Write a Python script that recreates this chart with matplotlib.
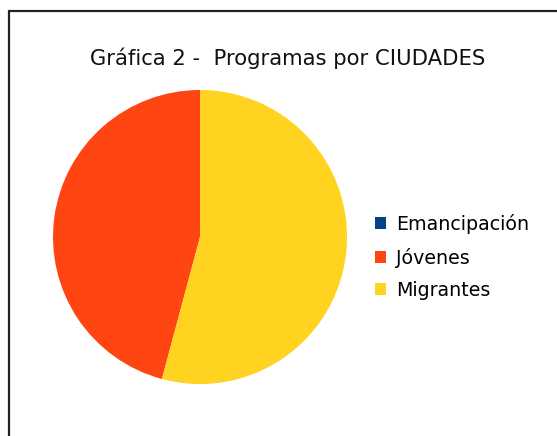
import matplotlib.pyplot as plt
from matplotlib.patches import Rectangle, Patch

labels = ['Emancipación', 'Jóvenes', 'Migrantes']
values = [0, 11, 13]
colors = ['#004586', '#ff4512', '#ffd320']

W, H = 557, 436
fig = plt.figure(figsize=(W / 100, H / 100), dpi=100)

# frame around the chart (right and bottom edges run off the image)
fig.patches.append(Rectangle((9 / W, -0.1), 1.1, (H - 11) / H + 0.1,
                             transform=fig.transFigure, fill=False,
                             edgecolor='#222222', linewidth=1.6))

# pie, centre (200, 237) px, radius 147 px
ax = fig.add_axes([53 / W, (H - 384) / H, 294 / W, 294 / H])
ax.pie(values, colors=colors, startangle=90, counterclock=True,
       radius=1, wedgeprops={'linewidth': 0})
ax.set_xlim(-1, 1)
ax.set_ylim(-1, 1)
ax.set_aspect('equal')
ax.axis('off')

fig.text(288 / W, 1 - 58 / H, 'Gráfica 2 -  Programas por CIUDADES',
         ha='center', va='center', fontsize=15.2, color='#111111')

handles = [Patch(facecolor=c, edgecolor='none') for c in colors]
fig.legend(handles, labels, loc='upper left',
           bbox_to_anchor=(375 / W, 1 - 214 / H), frameon=False,
           fontsize=13.7, handlelength=0.58, handleheight=0.58,
           handletextpad=0.53, labelspacing=0.71, borderaxespad=0,
           borderpad=0)

fig.savefig('out.png', dpi=100)
